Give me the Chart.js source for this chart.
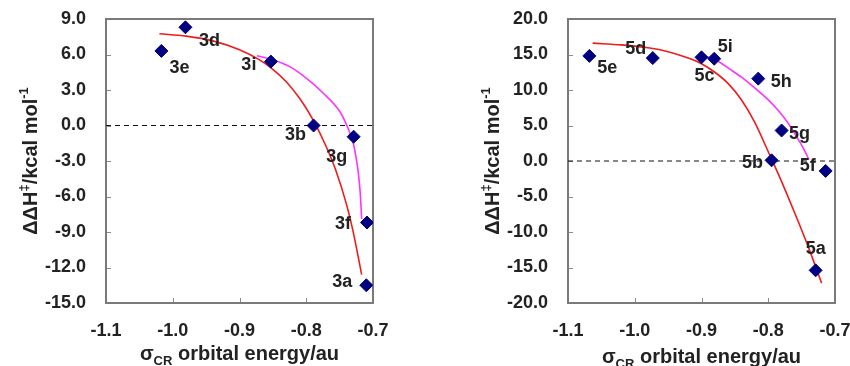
<!DOCTYPE html>
<html>
<head>
<meta charset="utf-8">
<script src="https://cdn.jsdelivr.net/npm/chart.js@4.4.1/dist/chart.umd.min.js"></script>
<style>
  html, body { margin: 0; padding: 0; background: #fff; }
  #wrap { position: relative; width: 850px; height: 366px; overflow: hidden; }
  canvas { position: absolute; top: 0; }
</style>
</head>
<body>
<div id="wrap">
  <canvas id="grafico3" width="425" height="366" style="left:0"></canvas>
  <canvas id="grafico5" width="425" height="366" style="left:425px"></canvas>
</div>
<script>
// painel da esquerda (serie 3)
const nomes3 = ["3e", "3d", "3i", "3b", "3g", "3f", "3a"]
const energia3 = [-1.017, -0.981, -0.853, -0.789, -0.729, -0.709, -0.710]
const dH3 = [6.3, 8.3, 5.4, 0.0, -0.95, -8.2, -13.5]

const vermelhoX3 = [-1.020, -0.98, -0.94, -0.90, -0.87, -0.85, -0.83, -0.81, -0.79, -0.77, -0.755, -0.74, -0.73, -0.717]
const vermelhoY3 = [7.75, 7.55, 7.15, 6.4, 5.55, 4.75, 3.7, 2.3, 0.5, -1.8, -3.9, -6.6, -8.9, -12.6]
const magentaX3 = [-0.874, -0.85, -0.824, -0.80, -0.774, -0.75, -0.74, -0.73, -0.726, -0.722, -0.719, -0.717]
const magentaY3 = [5.9, 5.55, 4.95, 4.0, 2.7, 1.2, 0.1, -1.4, -2.5, -4.0, -5.8, -7.9]

// painel da direita (serie 5)
const nomes5 = ["5e", "5d", "5c", "5i", "5h", "5g", "5b", "5f", "5a"]
const energia5 = [-1.068, -0.973, -0.900, -0.881, -0.815, -0.780, -0.795, -0.714, -0.729]
const dH5 = [14.8, 14.5, 14.6, 14.4, 11.6, 4.3, 0.1, -1.4, -15.4]

const vermelhoX5 = [-1.063, -1.02, -0.98, -0.95, -0.92, -0.90, -0.88, -0.86, -0.84, -0.82, -0.80, -0.78, -0.76, -0.74, -0.72]
const vermelhoY5 = [16.6, 16.35, 15.95, 15.4, 14.5, 13.7, 12.5, 10.9, 8.6, 5.4, 1.3, -2.9, -7.4, -12.1, -17.2]
const magentaX5 = [-0.90, -0.88, -0.857, -0.84, -0.823, -0.80, -0.783, -0.77, -0.758, -0.748, -0.739]
const magentaY5 = [14.9, 14.3, 12.9, 11.8, 10.5, 8.6, 6.9, 5.3, 3.5, 1.9, 0.2]

// eixos
const eixoX = [-1.1, -0.7, 0.1]
const eixoY3 = [-15, 9, 3]
const eixoY5 = [-20, 20, 5]
const linhaZeroX = [-1.1, -0.7]
const linhaZeroY = [0, 0]

const fonte = "'Liberation Sans', Arial, sans-serif"
Chart.defaults.font.family = fonte
Chart.defaults.font.size = 18
Chart.defaults.font.weight = 'bold'
Chart.defaults.color = '#222'

const pontos = (xs, ys) => xs.map((x, i) => ({ x: x, y: ys[i] }))

const extras = {
  id: 'extras',
  beforeDatasetsDraw(chart, args, opts) {
    const { ctx, chartArea: a, scales } = chart
    ctx.save()
    ctx.strokeStyle = '#8c8c8c'
    ctx.lineWidth = 1
    scales.y.ticks.forEach(t => {
      const py = Math.round(scales.y.getPixelForValue(t.value)) + 0.5
      ctx.beginPath(); ctx.moveTo(a.left, py); ctx.lineTo(a.left + 5, py); ctx.stroke()
    })
    scales.x.ticks.forEach(t => {
      const px = Math.round(scales.x.getPixelForValue(t.value)) + 0.5
      ctx.beginPath(); ctx.moveTo(px, a.bottom); ctx.lineTo(px, a.bottom - 5); ctx.stroke()
    })
    ctx.lineWidth = 2
    ctx.strokeStyle = '#7a7a7a'
    ctx.strokeRect(a.left, a.top, a.right - a.left, a.bottom - a.top)
    ctx.restore()
  },
  afterDraw(chart, args, opts) {
    const { ctx, chartArea: a } = chart
    const meta = chart.getDatasetMeta(0)
    ctx.save()
    ctx.fillStyle = '#222'
    ctx.font = 'bold 18px ' + fonte
    ctx.textAlign = 'center'
    ctx.textBaseline = 'middle'
    opts.nomes.forEach((n, i) => {
      const p = meta.data[i]
      const d = opts.desloc[i]
      ctx.fillText(n, p.x + d[0], p.y + d[1])
    })

    // titulo do eixo y: ΔΔH‡/kcal mol-1
    const big = 'bold 20px ' + fonte
    const small = 'bold 13px ' + fonte
    const partesY = [["ΔΔH", big, 0], ["‡", small, -9], ["/kcal mol", big, 0], ["-1", small, -9]]
    ctx.textAlign = 'left'
    ctx.textBaseline = 'alphabetic'
    let total = 0
    partesY.forEach(p => { ctx.font = p[1]; total += ctx.measureText(p[0]).width })
    ctx.translate(opts.tituloY[0], (a.top + a.bottom) / 2)
    ctx.rotate(-Math.PI / 2)
    let pos = -total / 2
    partesY.forEach(p => {
      ctx.font = p[1]
      ctx.fillText(p[0], pos, 7 + p[2])
      pos += ctx.measureText(p[0]).width
    })
    ctx.setTransform(1, 0, 0, 1, 0, 0)

    // titulo do eixo x: σCR orbital energy/au
    const partesX = [["σ", big, 0], ["CR", small, 5], [" orbital energy/au", big, 0]]
    total = 0
    partesX.forEach(p => { ctx.font = p[1]; total += ctx.measureText(p[0]).width })
    pos = (a.left + a.right) / 2 - total / 2
    partesX.forEach(p => {
      ctx.font = p[1]
      ctx.fillText(p[0], pos, opts.tituloX + p[2])
      pos += ctx.measureText(p[0]).width
    })
    ctx.restore()
  }
}

function montar(canvas, nomes, xs, ys, vx, vy, mx, my, eixoY, padding, desloc, tituloY, tituloX) {
  return new Chart(canvas, {
    type: 'scatter',
    data: {
      datasets: [
        {
          data: pontos(xs, ys),
          pointStyle: 'rectRot',
          pointRadius: 6.5,
          backgroundColor: '#000080',
          borderColor: '#000080',
          borderWidth: 1
        },
        {
          data: pontos(mx, my),
          showLine: true,
          pointRadius: 0,
          borderColor: '#ff33ff',
          borderWidth: 1.6,
          cubicInterpolationMode: 'monotone'
        },
        {
          data: pontos(vx, vy),
          showLine: true,
          pointRadius: 0,
          borderColor: '#ee1c1c',
          borderWidth: 1.6,
          cubicInterpolationMode: 'monotone'
        },
        {
          data: pontos(linhaZeroX, linhaZeroY),
          showLine: true,
          pointRadius: 0,
          borderColor: '#111',
          borderWidth: 1,
          borderDash: [5, 4]
        }
      ]
    },
    options: {
      responsive: false,
      animation: false,
      events: [],
      layout: { padding: padding },
      plugins: {
        legend: { display: false },
        tooltip: { enabled: false },
        extras: { nomes: nomes, desloc: desloc, tituloY: tituloY, tituloX: tituloX }
      },
      scales: {
        x: {
          type: 'linear',
          min: eixoX[0],
          max: eixoX[1],
          grid: { display: false, drawTicks: false },
          border: { display: false },
          ticks: {
            stepSize: eixoX[2],
            padding: 17,
            color: '#222',
            callback: v => (Math.abs(v) < 1e-9 ? 0 : v).toFixed(1)
          },
          afterFit: s => { s.height = 44; s.paddingLeft = 0; s.paddingRight = 0 }
        },
        y: {
          min: eixoY[0],
          max: eixoY[1],
          grid: { display: false, drawTicks: false },
          border: { display: false },
          ticks: {
            stepSize: eixoY[2],
            padding: 20,
            color: '#222',
            callback: v => (Math.abs(v) < 1e-9 ? 0 : v).toFixed(1)
          },
          afterFit: s => { s.width = 70; s.paddingTop = 0; s.paddingBottom = 0 }
        }
      }
    },
    plugins: [extras]
  })
}

const desloc3 = [[18, 17], [24, 14], [-22, 3], [-18, 10], [-17, 20], [-24, 1], [-24, -3]]
const desloc5 = [[18, 12], [-17, -9], [3, 19], [11, -12], [23, 3], [18, 4], [-19, 3], [-18, -5], [0, -21]]

montar(document.getElementById('grafico3'), nomes3, energia3, dH3, vermelhoX3, vermelhoY3, magentaX3, magentaY3,
  eixoY3, { left: 36, right: 52, top: 19, bottom: 19 }, desloc3, [30], 360)
montar(document.getElementById('grafico5'), nomes5, energia5, dH5, vermelhoX5, vermelhoY5, magentaX5, magentaY5,
  eixoY5, { left: 73, right: 15, top: 19, bottom: 19 }, desloc5, [67], 363)
</script>
</body>
</html>
